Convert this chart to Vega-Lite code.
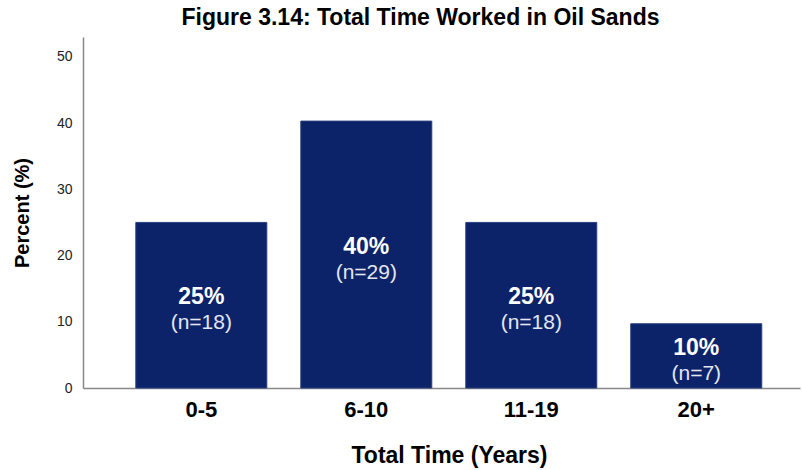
{
  "$schema": "https://vega.github.io/schema/vega-lite/v6.json",
  "autosize": {"type": "none"},
  "width": 717,
  "height": 351,
  "padding": {"left": 83, "top": 37, "right": 2, "bottom": 82},
  "background": "white",
  "config": {"view": {"stroke": null}, "font": "Liberation Sans"},
  "title": {
    "text": "Figure 3.14: Total Time Worked in Oil Sands",
    "font": "Liberation Sans",
    "fontSize": 23,
    "fontWeight": "bold",
    "color": "#000000",
    "anchor": "middle",
    "dx": -21,
    "offset": 7
  },
  "data": {
    "values": [
      {"time": "0-5", "pct": 25.0, "n": 18, "label": "25%", "nlabel": "(n=18)"},
      {"time": "6-10", "pct": 40.3, "n": 29, "label": "40%", "nlabel": "(n=29)"},
      {"time": "11-19", "pct": 25.0, "n": 18, "label": "25%", "nlabel": "(n=18)"},
      {"time": "20+", "pct": 9.7, "n": 7, "label": "10%", "nlabel": "(n=7)"}
    ]
  },
  "transform": [{"calculate": "datum.pct / 2", "as": "mid"}],
  "encoding": {
    "x": {
      "field": "time",
      "type": "nominal",
      "sort": null,
      "scale": {"paddingInner": 0.206, "paddingOuter": 0.276, "align": 0.58},
      "axis": {
        "title": "Total Time (Years)",
        "titleFont": "Liberation Sans",
        "titleFontSize": 23,
        "titleFontWeight": "bold",
        "titleColor": "#000000",
        "titlePadding": 24,
        "titleX": 366,
        "labelAngle": 0,
        "labelFont": "Liberation Sans",
        "labelFontSize": 22,
        "labelFontWeight": "bold",
        "labelColor": "#000000",
        "labelPadding": 11,
        "ticks": false,
        "domainColor": "#888888",
        "domainWidth": 1.5
      }
    }
  },
  "layer": [
    {
      "mark": {"type": "bar", "color": "#0c2369", "stroke": "#2a3f80", "strokeWidth": 1},
      "encoding": {
        "y": {
          "field": "pct",
          "type": "quantitative",
          "scale": {"domain": [0, 53], "nice": false},
          "axis": {
            "title": "Percent (%)",
            "titleFont": "Liberation Sans",
            "titleFontSize": 20,
            "titleFontWeight": "bold",
            "titleColor": "#000000",
            "titlePadding": 24,
            "values": [0, 10, 20, 30, 40, 50],
            "grid": false,
            "ticks": false,
            "labelFont": "Liberation Sans",
            "labelFontSize": 14,
            "labelColor": "#222222",
            "labelPadding": 11,
            "domainColor": "#888888",
            "domainWidth": 1.5
          }
        }
      }
    },
    {
      "mark": {"type": "text", "color": "white", "font": "Liberation Sans", "fontSize": 23, "fontWeight": "bold", "baseline": "middle", "dy": -8},
      "encoding": {
        "y": {"field": "mid", "type": "quantitative"},
        "text": {"field": "label"}
      }
    },
    {
      "mark": {"type": "text", "color": "#e4e6f0", "font": "Liberation Sans", "fontSize": 21, "baseline": "middle", "dy": 18},
      "encoding": {
        "y": {"field": "mid", "type": "quantitative"},
        "text": {"field": "nlabel"}
      }
    }
  ]
}
